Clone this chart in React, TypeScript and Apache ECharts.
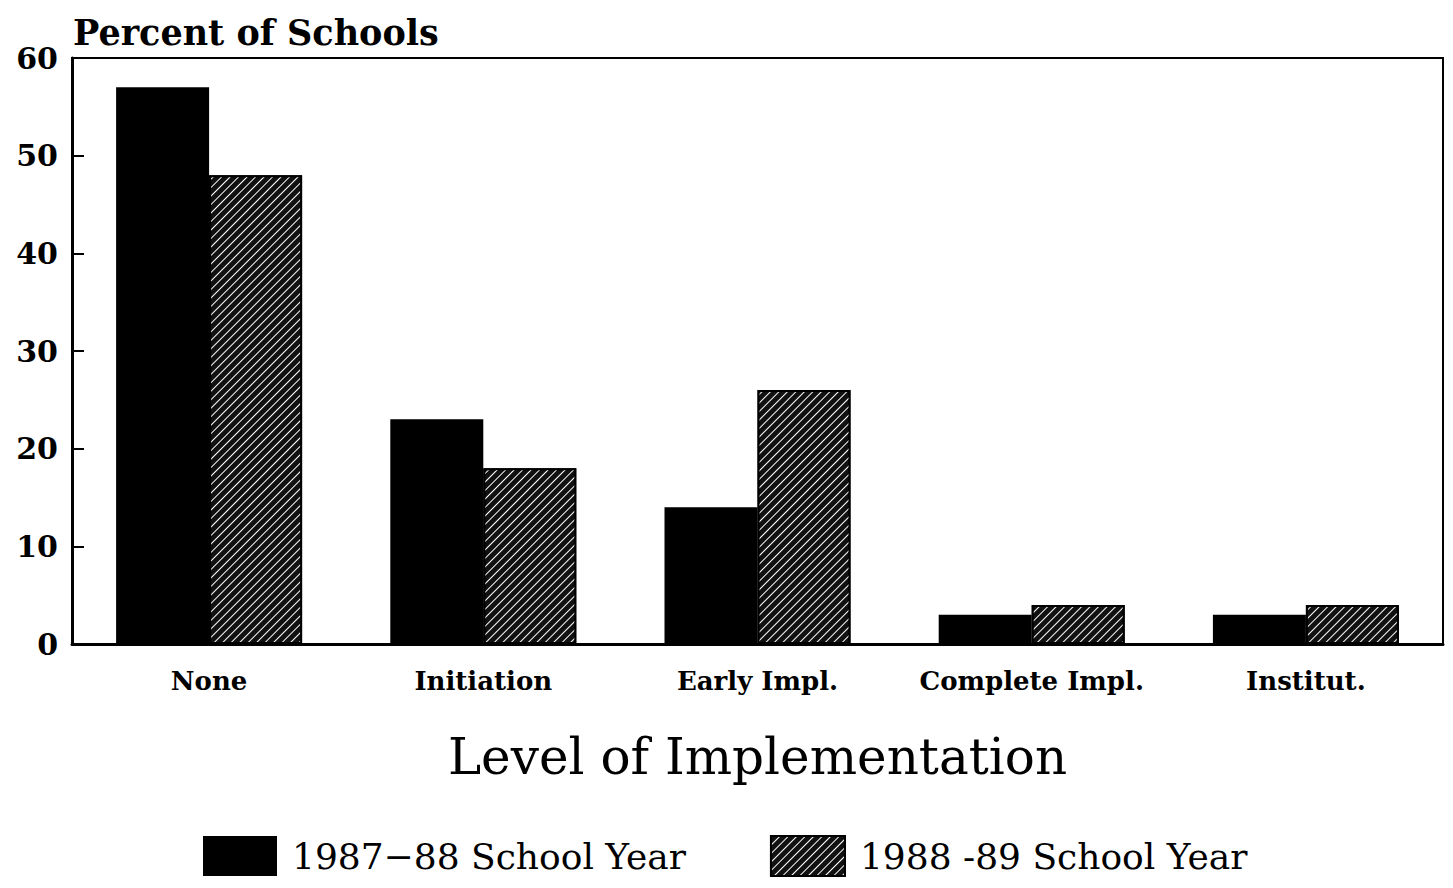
import React, { useEffect, useRef } from "react";
import * as echarts from "echarts";

const categories = ["None", "Initiation", "Early Impl.", "Complete Impl.", "Institut."];
const year8788 = [57, 23, 14, 3, 3];
const year8889 = [48, 18, 26, 4, 4];
const seriesNames = ["1987\u221288 School Year", "1988 -89 School Year"];
const yTicks = { min: 0, max: 60, interval: 10 };

const FONT = "'DejaVu Serif', 'Liberation Serif', serif";

export default function App() {
  const ref = useRef<HTMLDivElement>(null);
  useEffect(() => {
    if (!ref.current) return;
    const chart = echarts.init(ref.current, null, { renderer: "svg" });
    chart.setOption({
      animation: false,
      backgroundColor: "#fff",
      title: {
        text: "Percent of Schools",
        left: 60,
        top: 2,
        textStyle: { fontFamily: FONT, fontWeight: "bold", fontSize: 35, color: "#000" },
      },
      grid: {
        left: 64,
        right: 2,
        top: 50,
        bottom: 236,
        show: true,
        borderColor: "#000",
        borderWidth: 2,
        containLabel: false,
      },
      legend: {
        top: 822,
        left: 190,
        itemWidth: 74,
        itemHeight: 40,
        itemGap: 84,
        icon: "rect",
        textStyle: { fontFamily: FONT, fontSize: 36, color: "#000", padding: [8, 0, 0, 10] },
        data: seriesNames,
      },
      xAxis: {
        type: "category",
        data: categories,
        name: "Level of Implementation",
        nameLocation: "middle",
        nameGap: 88,
        nameTextStyle: { fontFamily: FONT, fontSize: 50, color: "#000" },
        axisLine: { lineStyle: { color: "#000", width: 3 } },
        axisTick: { show: false },
        axisLabel: {
          interval: 0,
          hideOverlap: false,
          fontFamily: FONT,
          fontWeight: "bold",
          fontSize: 26,
          color: "#000",
          margin: 24,
        },
      },
      yAxis: {
        type: "value",
        min: yTicks.min,
        max: yTicks.max,
        interval: yTicks.interval,
        splitLine: { show: false },
        axisLine: { show: true, lineStyle: { color: "#000", width: 3 } },
        axisTick: { show: true, inside: true, length: 12, lineStyle: { color: "#000", width: 2 } },
        axisLabel: {
          fontFamily: FONT,
          fontWeight: "bold",
          fontSize: 30,
          color: "#000",
          margin: 14,
        },
      },
      series: [
        {
          name: seriesNames[0],
          type: "bar",
          data: year8788,
          barWidth: 93,
          barGap: "0%",
          itemStyle: { color: "#000" },
        },
        {
          name: seriesNames[1],
          type: "bar",
          data: year8889,
          barWidth: 93,
          barGap: "0%",
          itemStyle: {
            color: "#111",
            borderColor: "#000",
            borderWidth: 2,
            decal: {
              symbol: "rect",
              symbolSize: 1,
              color: "#ffffff",
              dashArrayX: [1, 0],
              dashArrayY: [1, 5],
              rotation: -Math.PI / 4,
            },
          },
        },
      ],
    });
    return () => chart.dispose();
  }, []);
  return <div ref={ref} style={{ width: 1437, height: 872 }} />;
}
